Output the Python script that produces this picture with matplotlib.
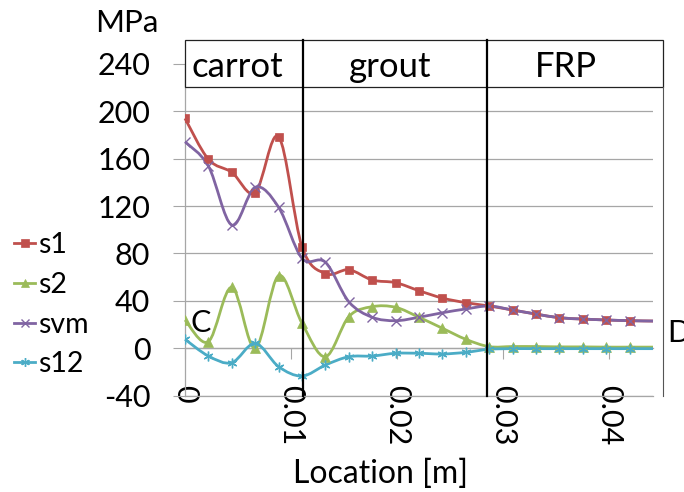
import numpy as np
import matplotlib
matplotlib.use("Agg")
import matplotlib.pyplot as plt
from matplotlib.path import Path
from matplotlib.patches import PathPatch, Rectangle
from matplotlib.lines import Line2D

plt.rcParams['font.family'] = ['Lato', 'DejaVu Sans']

# ---------------- data ----------------
location = [0.0, 0.002205, 0.00441, 0.006615, 0.00882, 0.011025, 0.01323, 0.015435,
            0.01764, 0.019845, 0.02205, 0.024255, 0.02646, 0.028665, 0.03087, 0.033075,
            0.03528, 0.037485, 0.03969, 0.041895, 0.0441]
s1 = [194, 159.5, 148.5, 131.3, 178.6, 85.7, 63, 66.3, 57.6, 55.4, 48.6, 42.4, 38.5,
      35.7, 32.3, 28.9, 25.8, 24.7, 23.9, 23.3, 23.0]
s2 = [23.9, 5.6, 51.5, 0.0, 61.3, 21.1, -7.1, 26.7, 35.1, 34.6, 26.2, 16.9, 7.6,
      1.4, 1.5, 1.5, 1.2, 1.2, 1.0, 1.0, 1.0]
svm = [174.3, 153.8, 104, 135.9, 119, 76, 72.6, 39.3, 26.2, 23.3, 26.2, 30, 33.2,
       35.7, 32.3, 28.9, 25.8, 24.7, 23.9, 23.3, 23.0]
s12 = [7.6, -6.5, -12.1, 4.2, -15.5, -23.4, -14.1, -7.1, -6.5, -4.2, -4.2, -4.8, -3.4,
       -0.8, -0.3, -0.3, -0.3, -0.3, -0.3, -0.3, -0.3]
series_names = ['s1', 's2', 'svm', 's12']
y_ticks = [-40, 0, 40, 80, 120, 160, 200, 240]
x_ticks = [0, 0.01, 0.02, 0.03, 0.04]
x_tick_labels = ['0', '0.01', '0.02', '0.03', '0.04']
regions = ['carrot', 'grout', 'FRP']
region_edges = [0.0, 0.01108, 0.0285, 0.045]
region_label_x = [0.00489, 0.01929, 0.03586]

colors = ['#C0504D', '#9BBB59', '#8064A2', '#4BACC6']
markers = ['s', '^', 'x', (6, 2, 0)]
msizes = [6, 6.5, 6.5, 7]

W, H = 684, 492
fig = plt.figure(figsize=(W / 100, H / 100), dpi=100)
L, R, T, B = 185, 653, 63.9, 395.7
ax = fig.add_axes([L / W, 1 - B / H, (R - L) / W, (B - T) / H])
ax.set_xlim(0, 0.0441)
ax.set_ylim(-40, 240)

grid_c = '#A6A6A6'
ax.set_yticks(y_ticks)
ax.set_yticklabels([str(v) for v in y_ticks])
ax.yaxis.grid(True, color=grid_c, lw=0.9)
ax.set_axisbelow(True)
ax.tick_params(axis='y', direction='out', length=8.5, width=0.8, color=grid_c,
               labelsize=22, pad=16.5)

ax.set_xticks(x_ticks)
ax.set_xticklabels(x_tick_labels)
ax.spines['top'].set_position(('data', 0))
ax.tick_params(axis='x', which='major', top=True, bottom=False, labeltop=False,
               labelbottom=True, direction='in', length=8, width=0.8, color=grid_c,
               labelsize=22, pad=-7.5, labelrotation=-90)
for sp in ['left', 'top', 'bottom']:
    ax.spines[sp].set_color(grid_c)
    ax.spines[sp].set_linewidth(0.9)
ax.spines['right'].set_visible(False)

ax.set_xlabel('Location [m]', fontsize=23)
ax.xaxis.label.set_va('baseline')
ax.xaxis.set_label_coords((380.7 - L) / (R - L), -(483.3 - B) / (B - T))


def smooth_path(xs, ys):
    pts = np.column_stack([xs, ys])
    n = len(pts)
    verts = [pts[0]]
    codes = [Path.MOVETO]
    for i in range(n - 1):
        p0 = pts[i - 1] if i > 0 else pts[i]
        p1 = pts[i]
        p2 = pts[i + 1]
        p3 = pts[i + 2] if i + 2 < n else pts[i + 1]
        c1 = p1 + (p2 - p0) / 6.0
        c2 = p2 - (p3 - p1) / 6.0
        verts += [c1, c2, p2]
        codes += [Path.CURVE4] * 3
    return Path(verts, codes)


handles = []
for vals, name, c, m, ms in zip([s1, s2, svm, s12], series_names, colors, markers, msizes):
    patch = PathPatch(smooth_path(location, vals), facecolor='none', edgecolor=c,
                      lw=2.0, zorder=3, clip_on=False)
    ax.add_patch(patch)
    mew = 1.0 if m in ('x',) or isinstance(m, tuple) else 0.5
    ax.plot(location[:-1], vals[:-1], linestyle='none', marker=m, markersize=ms,
            color=c, markeredgecolor=c, markeredgewidth=mew, zorder=4)
    handles.append(Line2D([], [], color=c, lw=2.0, marker=m, markersize=ms * 0.9,
                          markeredgewidth=mew, label=name))

fig.legend(handles=handles, loc='center left', bbox_to_anchor=(14 / W, 1 - 304.7 / H),
           frameon=False, fontsize=20.5, handlelength=0.75, handletextpad=0.1,
           labelspacing=0.48, borderpad=0, borderaxespad=0)

# region table and boundaries
y_top, y_row = 260.2, 220.3
tbl = Rectangle((region_edges[0], y_row), region_edges[-1] - region_edges[0], y_top - y_row,
                facecolor='white', edgecolor='#222222', lw=0.9, clip_on=False, zorder=5)
ax.add_patch(tbl)
for xe in region_edges[1:-1]:
    ax.plot([xe, xe], [-40, y_top], color='black', lw=1.6, clip_on=False, zorder=6)
ax.plot([region_edges[-1]] * 2, [-40, y_row], color='#555555', lw=0.8, clip_on=False, zorder=6)
for name, xl in zip(regions, region_label_x):
    ax.text(xl, 228.7, name, ha='center', va='baseline', fontsize=25, zorder=7)

fig.text(95 / W, 1 - 32.3 / H, 'MPa', ha='left', va='baseline', fontsize=22.5)
fig.text(190 / W, 1 - 331.7 / H, 'C', ha='left', va='baseline', fontsize=22)
fig.text(667 / W, 1 - 341.7 / H, 'D', ha='left', va='baseline', fontsize=22)

fig.savefig('out.png', dpi=100)
